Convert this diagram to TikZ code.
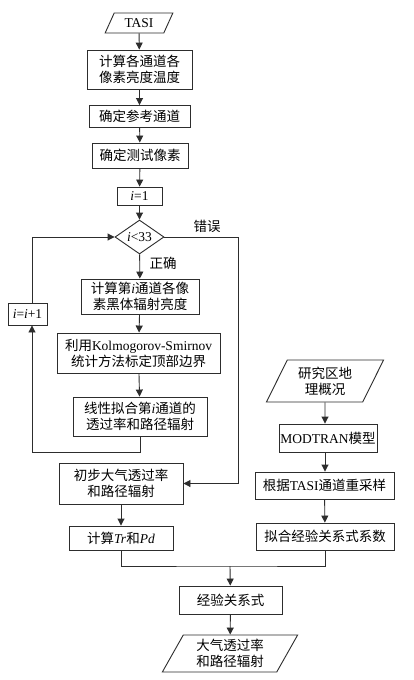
\documentclass[tikz,border=0pt]{standalone}
\usepackage{fontspec}
\setmainfont{Liberation Serif}
\newfontfamily\cjk{Noto Sans CJK SC}
\usetikzlibrary{arrows.meta, positioning, shapes.geometric, calc}
\definecolor{linegray}{RGB}{45,45,45}

\begin{document}
\begin{tikzpicture}[x=1pt, y=-1pt, font=\fontsize{13.5}{16}\selectfont,
  proc/.style={draw=linegray, line width=0.9pt, align=center, inner sep=1pt},
  io/.style={draw=linegray, line width=0.9pt, align=center, inner sep=1pt, trapezium, trapezium left angle=63, trapezium right angle=117, trapezium stretches=true},
  test/.style={draw=linegray, line width=0.9pt, diamond, aspect=1.5, inner sep=0pt},
  arr/.style={-{Triangle[length=7pt, width=7pt]}, draw=linegray, line width=0.9pt},
  ln/.style={draw=linegray, line width=0.9pt}]
\useasboundingbox (0,0) rectangle (414,680);
\fill[white] (0,0) rectangle (414,680);
% left column
\node[io, minimum width=68, minimum height=20] (tasi) at (139,23) {TASI};
\node[proc, minimum width=105, minimum height=39] (bright) at (139.5,69.5) {\cjk 计算各通道各\\\cjk 像素亮度温度};
\node[proc, minimum width=101, minimum height=22] (refch) at (139.5,116.5) {\cjk 确定参考通道};
\node[proc, minimum width=96, minimum height=25] (testpx) at (140,155.5) {\cjk 确定测试像素};
\node[proc, minimum width=45, minimum height=18] (init) at (139.5,196) {\textit{i}=1};
\node[test, minimum width=49, minimum height=34] (cond) at (139.5,237) {\textit{i}<33};
\node[proc, minimum width=118, minimum height=35] (blackbody) at (140,296.5) {{\cjk 计算第}\textit{i}{\cjk 通道各像}\\\cjk 素黑体辐射亮度};
\node[proc, minimum width=163, minimum height=40] (ks) at (138.5,353) {{\cjk 利用}Kolmogorov-Smirnov\\\cjk 统计方法标定顶部边界};
\node[proc, minimum width=134, minimum height=39] (fit) at (140,416.5) {{\cjk 线性拟合第}\textit{i}{\cjk 通道的}\\\cjk 透过率和路径辐射};
\node[proc, minimum width=39, minimum height=22] (incr) at (27.5,314) {\textit{i}=\textit{i}+1};
\node[proc, minimum width=124, minimum height=41] (prelim) at (121,483.5) {\cjk 初步大气透过率\\\cjk 和路径辐射};
\node[proc, minimum width=104, minimum height=24] (trpd) at (121,538) {{\cjk 计算}\textit{Tr}{\cjk 和}\textit{Pd}};
% right column
\node[io, minimum width=118, minimum height=42] (region) at (325,381) {\cjk 研究区地\\\cjk 理概况};
\node[proc, minimum width=98, minimum height=28] (modtran) at (328,438) {MODTRAN{\cjk 模型}};
\node[proc, minimum width=139, minimum height=27] (resamp) at (324.5,485.5) {{\cjk 根据}TASI{\cjk 通道重采样}};
\node[proc, minimum width=138, minimum height=27] (coef) at (325,536.5) {\cjk 拟合经验关系式系数};
% bottom
\node[proc, minimum width=103, minimum height=28] (emp) at (230.5,600) {\cjk 经验关系式};
\node[io, minimum width=136, minimum height=37] (result) at (230,653.5) {\cjk 大气透过率\\\cjk 和路径辐射};
\node (wrong) at (207,226) {\cjk 错误};
\node (right) at (163,263) {\cjk 正确};
\coordinate (loopL) at (32,452);
\coordinate (exitR) at (238,237);
\coordinate (merge) at (230,566);
\draw[arr] (tasi) -- (bright);
\draw[arr] (bright) -- (refch);
\draw[arr] (refch) -- (testpx);
\draw[arr] (testpx) -- (init);
\draw[arr] (init) -- (cond);
\draw[arr] (cond) -- (blackbody);
\draw[arr] (blackbody) -- (ks);
\draw[arr] (ks) -- (fit);
\draw[arr] (fit.south) |- (loopL) -- (loopL |- incr.south);
\draw[arr] (loopL |- incr.north) |- (cond.west);
\draw[arr] (cond.east) -- (exitR) |- (prelim.east);
\draw[arr] (prelim) -- (trpd);
\draw[arr] (region) -- (region |- modtran.north);
\draw[arr] (region |- modtran.south) -- (region |- resamp.north);
\draw[arr] (resamp) -- (coef);
\draw[ln] (trpd.south) |- (merge) -| (coef.south);
\draw[arr] (merge) -- (emp);
\draw[arr] (emp) -- (result);
\end{tikzpicture}
\end{document}
